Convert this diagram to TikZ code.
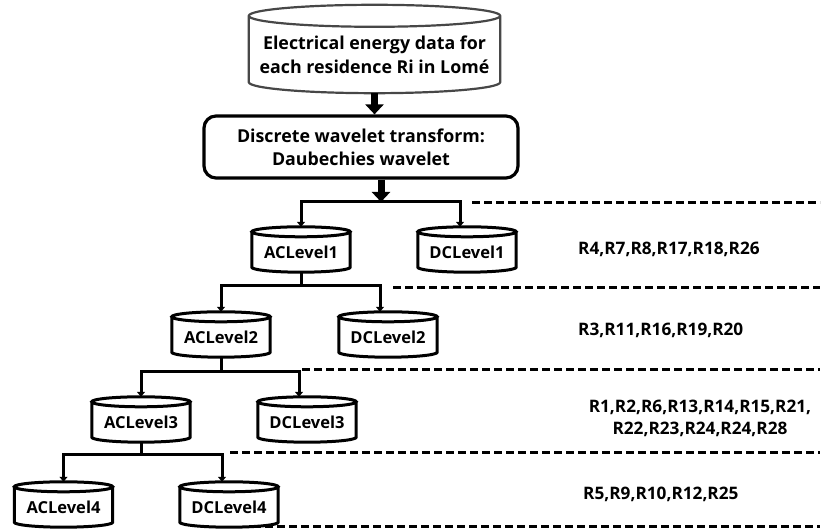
\documentclass[tikz,border=0pt]{standalone}
\usepackage{fontspec}
\setmainfont{Open Sans}
\usetikzlibrary{arrows.meta,calc}

% outline of a vertical cylinder around a node whose north anchor
% sits at the centre of the top ellipse
\newcommand\cylshape[3]{%
  \draw[#1] let \p1=(#2.north west), \p2=(#2.south east), \n1={(\x2-\x1)/2} in
    (\x1,\y1) -- (\x1,\y2+#3pt)
      arc[start angle=180,end angle=360,x radius=\n1,y radius=#3pt] -- (\x2,\y1)
    (\x1+\n1,\y1) ellipse[x radius=\n1,y radius=#3pt];}

\begin{document}
\begin{tikzpicture}[x=1pt,y=1pt,
  txt/.style={font=\fontsize{16.5}{22}\selectfont\bfseries, align=center},
  bigtxt/.style={font=\fontsize{17.8}{23}\selectfont\bfseries, align=center},
  cylbody/.style={txt, minimum width=98pt, minimum height=40pt, inner sep=0pt},
  cylline/.style={line width=3pt, black},
  dataline/.style={line width=2.2pt, black!72},
  link/.style={line width=3pt, line join=miter},
  split/.style={link, {Triangle[width=8pt,length=5pt]}-{Triangle[width=8pt,length=5pt]}},
  bigarrow/.style={line width=7pt, -{Triangle[width=18pt,length=10pt]}},
  sepline/.style={line width=3pt, dash pattern=on 8pt off 4pt},
  rlabel/.style={font=\fontsize{17.2}{22}\selectfont\bfseries, align=center, anchor=west, inner sep=0pt}]

\useasboundingbox (0,0) rectangle (823,529);

% source data
\node[cylbody, bigtxt, minimum width=251pt, minimum height=77pt,
      font=\fontsize{17.8}{24}\selectfont\bfseries] (data) at (374.5,474.5)
  {Electrical energy data for\\each residence Ri in Lomé};
\cylshape{dataline}{data}{11}

% transform step
\node[bigtxt, draw, line width=3.2pt, rounded corners=12pt,
      minimum width=314pt, minimum height=62pt] (dwt) at (361,382)
  {Discrete wavelet transform:\\Daubechies wavelet};

% decomposition levels
\node[cylbody] (ac1) at (301,277) {ACLevel1};
\node[cylbody] (dc1) at (467,277) {DCLevel1};
\node[cylbody] (ac2) at (221,192) {ACLevel2};
\node[cylbody] (dc2) at (388,192) {DCLevel2};
\node[cylbody] (ac3) at (141,107) {ACLevel3};
\node[cylbody] (dc3) at (307,107) {DCLevel3};
\node[cylbody] (ac4) at (63.5,22) {ACLevel4};
\node[cylbody] (dc4) at (229,22) {DCLevel4};
\foreach \nm in {ac1,dc1,ac2,dc2,ac3,dc3,ac4,dc4}{\cylshape{cylline}{\nm}{5}}

% branching points
\coordinate (s1) at (381,327);
\coordinate (s2) at (301,243);
\coordinate (s3) at (221,157);
\coordinate (s4) at (141,74);

\draw[bigarrow] (data.south) -- (data.south |- dwt.north);
\draw[bigarrow] (s1 |- dwt.south) -- (s1);
\draw[link] (ac1.south) -- (s2);
\draw[link] (ac2.south) -- (s3);
\draw[link] (ac3.south) -- (s4);

\draw[split] ([yshift=5pt]ac1.north) -- (ac1.north |- s1) -- ([xshift=-7pt]dc1.north |- s1) -- ([xshift=-7pt,yshift=5pt]dc1.north);
\draw[split] ([yshift=5pt]ac2.north) -- (ac2.north |- s2) -- ([xshift=-8pt]dc2.north |- s2) -- ([xshift=-8pt,yshift=5pt]dc2.north);
\draw[split] ([yshift=5pt]ac3.north) -- (ac3.north |- s3) -- ([xshift=-8pt]dc3.north |- s3) -- ([xshift=-8pt,yshift=5pt]dc3.north);
\draw[split] ([yshift=5pt]ac4.north) -- (ac4.north |- s4) -- ([xshift=-7pt]dc4.north |- s4) -- ([xshift=-7pt,yshift=5pt]dc4.north);

% level separators
\coordinate (d1a) at (472,326); \coordinate (d1b) at (820,326);
\coordinate (d2a) at (393,241); \coordinate (d2b) at (820,241);
\coordinate (d3a) at (302,159); \coordinate (d3b) at (820,159);
\coordinate (d4a) at (230,76);  \coordinate (d4b) at (820,76);
\coordinate (d5a) at (253,2);   \coordinate (d5b) at (820,2);
\foreach \i in {1,...,5}{\draw[sepline] (d\i a) -- (d\i b);}

% residences per level
\node[rlabel] (r1) at (578,280) {R4,R7,R8,R17,R18,R26};
\node[rlabel] (r2) at (578,199) {R3,R11,R16,R19,R20};
\node[rlabel, anchor=center] (r3) at (700,111) {R1,R2,R6,R13,R14,R15,R21,\\R22,R23,R24,R24,R28};
\node[rlabel] (r4) at (583,35) {R5,R9,R10,R12,R25};
\end{tikzpicture}
\end{document}
